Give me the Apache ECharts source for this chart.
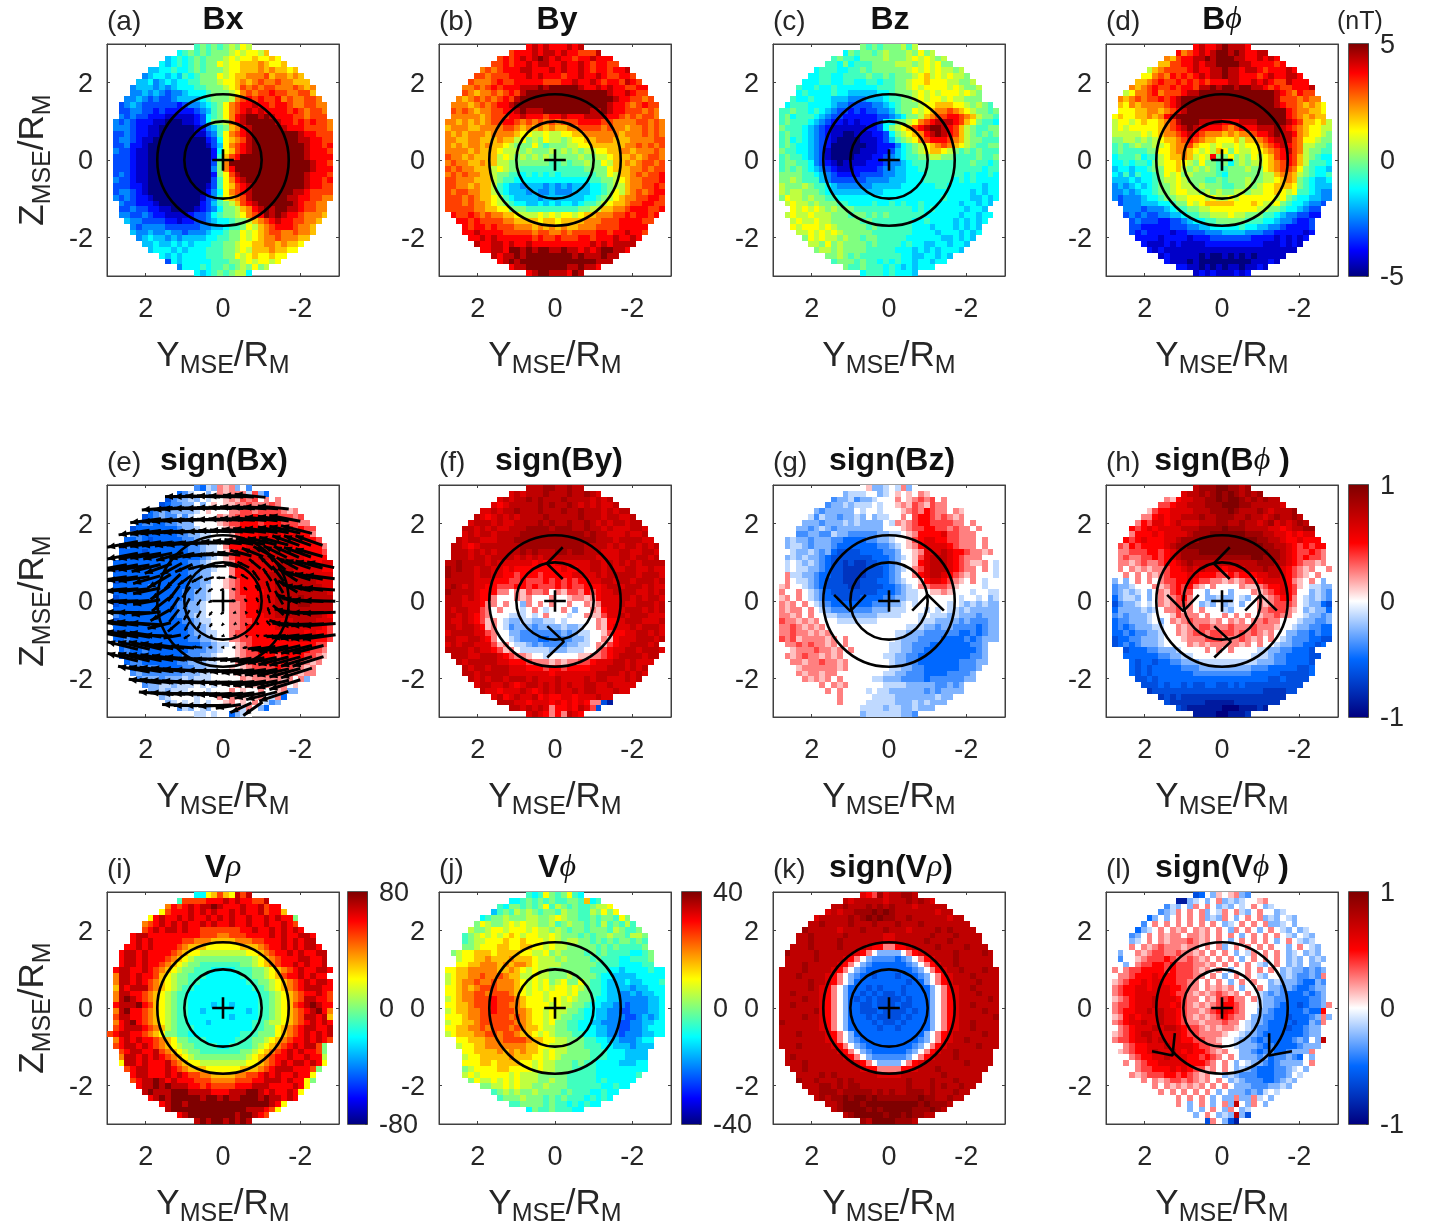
<!DOCTYPE html>
<html><head><meta charset="utf-8">
<style>html,body{margin:0;padding:0;background:#fff}#c{width:1429px;height:1230px}</style>
<script src="https://cdn.jsdelivr.net/npm/echarts@6/dist/echarts.min.js"></script>
</head><body><div id="c"></div>
<script>
// Each character (base 17) is a level, index into levelValues; rows run top to bottom, centred on Y=0.
const levelValues=[-1,-.875,-.75,-.625,-.5,-.375,-.25,-.125,0,.125,.25,.375,.5,.625,.75,.875,1];
const bxRows=["78787898a9","6787878889a9aa9b","56767878889a9aabaaba","6567678788a9aabbbcbaab","55667667878889aabbbcbcbbab","4566565767888a9abbcccdbccbcb","556456566778889aabcbcdccdccbbb","45554545666778889abdcdcddcccdcbc","445454344566678889acdcddeddccddb","4454343345555678889cdededdecdccddc","345433333323445678acdeefeedeedccddcc","334433232222234578acdefefeeeededcddc","434332221111123678acefggfgfeeeddcddd","43432221100011236889cefgggggfeedededdc","44432211000000124578bcefgggggfeeeddddc","3343221100000011347acdefggggggggfeeddd","3443211000000000236abcdfggggggggffeedd","3342210000000000135acdefgggggggggfeede","4332110000000000026abdefgggggggggfeeed","3332110000000000027bdegggggggggggfeeee","3332110000000000038cggggggggggggggfeed","3332110000000000048cegggggggggggggfeee","3432110000000000028adfgggggggggggfeeed","4332110000000000037acefggggggggggfeede","3332210000000000137abdefgggggggggfeedd","3443210000000000246acdefgggggggffedddd","4343221000000001347abcdfggggggffeeddcc","43322210000000235789bdefggggggfeddcc","334332211000012346889bcefgfggffeddcc","443343221111233467889acdegfgfeedcccb","5443333221223345667889bcdefeeddccb","43444433333344556778a9bcdeeedccb","5445445443444566788a9abcddccdccb","456554545555667788a9abccdcccbb","55655656566677889aabbccbcbba","5666565666777889a9bbbcbbaa","6565666677788a9abaabaa","36566666777889a9aa9a","4666767787898a89","6567878996"];
const byRows=["efefeeefef","deeefeffefeedddf","dedefefgfefeedeefeee","ddedeefeffeefeefedeedd","cdcdeeeffeeefefeefedeedeef","ddcdddeeefefeeedeefeefeddeed","dcccdeddeeeeedddeefeefedeedfed","ccdcdedeeefffgfgggggfeefefeeddee","dcbccdcdedfggggggggggggggfeefedd","cbcdcdcdedfggggggggggggggggfeeddcd","cccbcdcdeefggggggggggggggggfeedcdedd","dcdcbccddeefgfffggggggggffgfeedddcdc","cccccbcdddeefeeedeefeeeffffeedcdcddc","ccbcbcbcddeedcdcdcdcdddeeeeddccccddcdc","bcccbbccccddcbcbcbcbbccddddcdccbccdcdc","cbcbcccbccccbaa99a99aabbccccccbcccdcdc","ccbbccbbbcbb9a898a9989aabbcccbbbccccdd","cbcbccbcbba9888a8788899aabbbbbbccdcdcd","ccccbcbbba9998988898989899aabbccbcccdc","dccbcbbbb9a98989898888898899abbbcbcddc","cdccbbcbb998888888778788988a9bbcbcddcd","dcdccbbb9a988777777777778888abbbccdcdd","cdcdccbb98877676767677777788a9bbcdcdde","ddcccbbb9877666666666666677889abccddde","ddccbcbb97655455545454555667899bccdded","dcddccbb976555454454445556678a9bcdcdee","dddcdcbba97655554555555566789abccddeed","dddcdccba9876655656566567789abbcddeedd","dddddccbbaa8887777777778899bbccdeeedde","eddedcdccbba999a9a9aa9abbcccddedeede","eededdddccbbbbabbabbbbcccdddeeeedd","edeededddcccbcbcbcbbcccddddeeeee","eefeeeedddddcddccdcddddeedeefeed","eefefeeeeeededdedddeedeeefeefe","feeffefeefeeeeeeeeeefefeffff","eeffeggfgfggffgffefefggffe","feffgfggggggggfgfffgff","efgfgggggggggggggfff","effgggggggffgffe","efggfffegf"];
const bzRows=["8787888979","6878878988898a89","78776888898889a9a989","77686777888899989a9a88","67776677878888889a9a9a9989","6677667777877878889ab9a9a998","6667766776677677889aabaaa99889","76676676666666777889a9aaaa9a9889","676666766555556678889a9a9aaa9a98","7667666555444555677889a9aa9a99888","677766665443333445678889aabbbaa98987","77877676543323233445788a9abccdcba98878","7867776543322222233456889bcddeedcb9887","78777654322121222366889acdefffedba8776","877765432111111223689abdefggfedb987788","7877654321100111223689abcefgfedb987878","78676543210000111235789acdeeedcb988777","7876654320000001122246789abcdcba987788","8776654310000011122356789abba987878777","78776543100001112234567788998877778778","78877643210111122234456777777777787767","78787654321112222344556677777777777677","88887765432222333344556667777777676676","88987775433333344445556667777767676666","98889877654444445555566666677666666566","98998887655555555566666666666666656566","8a998988776666666666666666667666655656","9a9989888776666766767667666666566565","a9a9a98988877777777776767666665665","9a99a9998887887878777777666666566566","9a99a99888887877777776676666565656","a9aaa9a98888878777777666566656565","99a9a9a9888887777777666656665656","8a9a99898878877777666666556565","998a898888787777676655665665","89989888877777666565656665","8898787777777665566565","78887877676766566566","8778777676565666","6777676665"];
const bphiRows=["efeefgfffe","ecdefefggfgfeeff","cbdeeffgfgggffeefefe","bbddeefeffggggffeeeede","9bcddddefeeffgffeffedeeefe","aacdcededefeffgffeeedefeeffe","bbcdeddedededeeeffeefefeddfeee","cbcdeddedeedffgfggfggffededdeeef","9accdecdddeffgggggggggggggfedcedd","cbcdcddedefggggggggggggggggfdddcdcc","bacbccccdefggggggggggggggggfeddcbcba","aaabbccbcdefgggggggggggggggggedccbba","abaabbcbcefgggggggggggggggggggedcbcbb","9aa9abaabcdfgggffffeeefffgggggfedbbab9","9a9aaaaabcdefgfeeeedcdeeefffgfedcbaa99","99999a9abccdefedcccbcbccdeefgffecbaa98","88998989abbcdedcbbaaab9bbcdefffdcaa988","787898899abccdbaa9a99a9aabcdefedc99887","78777788aabccba9a9ba8a99aabcdefdc98877","677786779abbcb9a9e88a898a9abdeedb98766","667677689aaba98a8878689899abcdedb97776","566566788aab98989877888988abcddca87665","657576678a9a8988887688888899bccb987667","55565667899a9888778788898899abcb876556","45456567889a99898887788989aabbba876555","44545667889aa9989898899899aaba9a776544","4344456678899aaa9a99a9aaaaaa9a87665544","344455566788a9abbbbbaaaba99a87665443","444344456778899aaaaaaaa99887665433","343433445567788999a998887765443322","34333223345667788888777665443223","33222223334455666667665544322223","32322221223334445555444332222212","222212222122233333332222121212","2111212111122222222221112121","21211111111111111111111111","1211111010010101011111","21110100000000011121","2211010101101121","1212111212"];
const signBxRows=["5476a9a685","4578868a9aaa7b64","35667687889a9bab8a8a","3455668689899aabaaaba8","45656666789888aabbabbbba9a","3456557578888a9abbbcbbcbbbab","455445566688889abbcccbcccbbbaa","34444444566788889abcccdcdcbcbcbb","554444445566778889bcccddcdccdcca","4454344444556778889acdcdcddcdccccb","354444444444556778acccddddddcdccccca","4444344444445567789bcddedddedddccccb","4444444444444456789bcdddeeddddddcccc","44444444444445567889acddddddeeddddccdd","34444444444445566788accdddddeeedddddcc","44444444444445566888acccdddeeeeddddddd","34444444444445566889abcccdddeeeeeeeddd","44444454444445567889abcccdddeeeeeeeedd","44444444444455667888abccccddeeeeeeeeed","34444444444455667888abbccdddeeeefeeeee","34444444444556678888aabccdddeeeeffeeee","44444444444556678888aabccdddeeeeeeeeee","54444444444556778888aabcccddeeeeeeeedc","34444444444455677888aabbcccddddeeeeddd","44444444444445667888aabcccccddddddddcb","35444444444445667788abbccccccddddcdccb","44544444444445566788aabbccccccdcddcccb","445444444444445567789abcccccccccccbb","454454444444555667889abbcccccccccbba","354444444445556678889abbcccbccccbba9","4554444445566677888a9bbbccbcbbba9a","45555444455667788989abbbbcbbaa9a","56555555566677888899aabbabaaa9aa","566656667677788888a9aaaaa9a8a6","5667767778787888a8a9aa9aa898","66767778887888a8988a889a66","6788887888a8a9989a87a4","67878787889a898a8756","5768768888a7a864","7787884678"];
const signByRows=["eeeffeefee","dedeeefeeefeefed","dedeefefeeefeeeedede","dcdeeeeefefeefedededde","ddedeefeeefeeefeefeeededee","edcdededeeeefeeeeefeeedeedde","deeededdeeeefefeefeefededeedee","eedededdeeeffffefffeefeededddeed","dedeedeeeefffffffffffefeedddedde","edeedddeeeffffffffffffffeeedeeeedd","eedcdeeeeeeefffffffffffeeeededeedede","eeedededeeeefefeeeffeffeeedddeeddeed","eeedeedeeeedededeeeeeeeeeddddeedeede","eefeeeededdddddcdccddddddeededededeeee","fefeedeeddcdccccccccdccddeededdeeddedd","feeeedeeddccbcccbcccccddddedeeeeedeeed","eeeeedddcccbbcbbbcbcbcbccddeedeedeeede","efededdccbbbccbcbbbcbcbbcccdeedeeededd","feeeedcccaa8a9baab8a9bbacbcddeeeeddede","eeededcca888a9a888a889aa9acdddeededeed","eeedddcaa8a886a8a8a88a88a9adddeddeeede","edeeddba8a88878a8788a8688a9cdddeeedede","eededcba888777878a888788a99bddedeeeddd","eddedcb9a87667766778788888a9ccdeeeddde","eedeedc9a87566656666766788a9cdddedeeed","deeeeddba8866555555565677889bccddeeded","eeddeedca887655544555566788a9cdddeeede","dedeedddb9a877656555566778a9bcddeeede","eeeededdcb9a87777766677788abcddeedeeed","eeeddeeedcbaa98878888899aabcdeeeedee","edeeeeeddcccbaaa9a9aabbcdddeededdd","edeedeeedddcccbccbccccdddeeedede","eedeeeeedddddddcdddddddeeeededed","ededeedeeededddeddddedeedddede","deeddedcdeededededdeeddedddd","eddcdddedcdededdedeedddedd","decdeddecdccddcdddedd8","eeeddcdddcdcdcdcaa31","eedededaccdcedb3","dedcacaedc"];
const signBzRows=["8966787a68","6777886789898a98","56675667888a89abab8a","5667677787889a9ba9baa8","6566666878878889abacbaa8a9","7576656676867788a8bccbaba9a8","6665666767666687a9abccbbbbaa8a","6656765666666668889abbccbbabaa8a","55665576655555667789accccdbbaaa8","6766566655444455667889bcddccbbaaa8a8","6776566654444444556789acddddcbaaa8a8","87667656433334444556889adddedccbaa9a","867676654333333344456789bdeeedcbaaa888","878767654332322334456889cdeeedcba99a87","87877665433222233345678abdeeedcbaa8a87","8a776654433222233345688acdeedcba9a8887","8a87765433322233344567889cddcba98a8788","9a8876543333223333445678aabbba98888788","a88a876543333333344456778899a988878877","9a8a8765443333444455667788888887887867","a9a8a876544444445556678788888787676766","a9aa8a87655555556667778887878776766666","aa9a8a88776666666777788878777676665666","baa9a9a8887777777888888877766665655566","aaba9a9a888888888888887776656655554566","aabaa9a9a88888888888776665555554454566","bab9aaaa9a8a88888888766655554444545666","aababaa9a8a888888877665554444444556","9aaabaa9a8a88888877665544444444456","a9abaa9a9a8888888776655444444444556","aa9aabaa9a888888876655444444455566","9aaaaaa9a88888887766554444445556","a9aa9aa888888887766555444455556","8a9a9a8a88888776665555455555566","8a8a9a88888877776666655656","88a8a888878776666665656666","88a8888877776666666766","8a888877777666767666","8887777677667666","6777777665"];
const signBphiRows=["efffggffef","8deefefgfgfefef","a9cddeeffgfggfefefee","bbcddeeefffgggffeeeeed","9bccddddeeefffgfeeefedeeef","aacdcddeeefeefffeefeedefeefe","acbddcdedddeeeffeefeedefdedefe","cbcdcddddeeeffffgfffeeeeddcdeeff","acccdcddddefffggggggfffeeddcdcdd","cbcdcccddefffggggggggggffeedccdccc","bacbccccdeffgggggggggggggffeedcbcbcc","aabbbccbcdefffggggggggggggffedcbbcba","abaabbcbcdeffffffffffffggfffedcbcbba","8aa9abaabccdefeeeeeeeeeeefffeedcbaa9a8","8a8a9a9aabccdededddcdddeeefeedcba9a88a","88a8a8a9abcccddcccbbcbcccddeedcba98a88","6868a8a8abbccdcbbaa9a9abbcddddca98a868","5667888a9abcbca98a8888a99abccdcb987766","56767868a9bcbb8868886888a9abcdcb886765","46776868a9abca88667668768a9abcca876765","35667878a9abba86768678688a9abbba876643","466667678aab9a8a888768888aabbba9867664","56566678889baaa8a88a8a8a89aabaa8876656","4556667868a9abaaa9a8a9a8aabaa888766556","45456667788a9aabbaaabaaabaaa9887665544","44545566788a9abbabbbbababa9a8866554544","3445566678889aaabbbaaaba9a8a8765554433","3454566678888a9a9aaaaa9a8a88766554434","3444556667888 8a8a8a888877665544 43".replace(/ /g,''),"4444445566778888888888777655444433","43443445566677777777776665544443","43434444455566666666655544444334","43434444444555555555544444333334","334344444444444444444443343333","3334344343344334343333333333","23333333333333333333222233","2323222222222222222222","32222221111122222222","3211111100011121","1111001112"];
const vrhoRows=["66abdbafdf","7ddddeeefefeeddf","cedefeffgfeeefeefdee","adeeefefefeefefeefdeeb","aefeefefeefefefeefeefefee8","cdefefefeefefeefeefeefeefed","defeffefeedddddddeefeefefefe","effeeeeeeeeedddccdddeeeefefeeffe","efefeeeeeddcccbbbbcccddeeefefeff","eefefeeeedcbbbaaaaaabbbcdeefefeffe","effefeeeedcbaa99999999aabcdeefefeeff","effefeeedcba988888888889abcdeeeffeef","effefeedcba9887777777889abcdeefefeef","effeefedcba9887776666777889abcdefeeffe","cffefeedba9887776666667 7889abdeefefee".replace(' ',''),"cffefedcba988776666666677889abcdefeffe","bfefffdcba987766666666667789abcdefffee","cffeedcba98776666666666667789abcdeefed","cfgfedcba98776666666666667789abcdffeed","efffgedba98776666566566667789abdefgfee","cfgeedcba98776656666666567789abcdefgec","dffeedcba98776666666566667789abcdffefb","cefgedcba98776665666666677899abcdefefe","defffedcb9877766666666667788abcdeffeef","deffeedcba8877666666666777888abcdefefef","cefefeedcba8877766666777889abcdeefefed","deffefedcba988777766777789abcdefeffd8","deffeefdcba9887777777889abcdefefeed8","cffefefedcba98888888889abcdeefeefee9","affefeeefdcbaa99999999aabcdefeffefea","deffeeefedcbbbaaaaaabbbcdefffeeed8","effeeefefeddccbbbbccddefefeefeea","deffgfefeeedddccccdddeefffefeea8","effgfgfffeededdddeeefffeeeefea","fgfffgggffffeeefffggfefeefea","efgfgggggfggfgffgggfgffefe","efggfggggggggggggggfea","fgggggggggggggfffeda","efggggggggfggfed","fgfggfgfgf"];
const vphiRows=["767a878a76","6678787877887b67","76887878a7987877899a","5787989878879887798a8a","6788988899889a9887787887a8","8a9889a9a9988978988787978797","9889aa9aaa9a998987887888798778","789a9a9aba9aa99a9888787889887998","7899aaabaabaaa9a9899887878788787","889aaabbaabbaa9a9988888787877778","89aabbbabbbbaa99a898888787877776678","9aabbcbbbcbbba99989888878777667778","aabbcccbcbccba99998888887777666677","aabbcccccbbcba9a9988888887776656666766","9abbccdccdcbb99a9988898888766555566666","9abccdccdcccba9a9a89a88a87765556556667","aabcbcdddcccba9a9a9aa9a987765555455666","aabccddcdddcba9aa9aaa9a887765544545566","9abccdddedddcbaaa9aa9a9887665544444556","aabbcdddeddccbaaaa9a998876655443444556","9abbccddedddccbaa9a9988766554433444556","aaabccdddddcdcbaa9a9887766554443345456","9aabbcddddddccbaa9a8877665544433445566","aabbccdcdddcdcbba998877666554433445666","9abbbccddcddcbba9a98887766554434445566","aabbbcccddddcbbaa99888776655444566","9aabbcccccccbbaa999888777665554555","aabbbbcbcbcbba9a9988887776665555","9aabbbbbcbbbaa9a9888887776665555","aaabbabbbbaa9a998887877666655566","89aaaabbaaaa9a998887777666666666","9a9aaaaa9a999888887777766666667","8a99a9a9a99988988777776766666","8899a9a9988988877777766766","7898988988887877766766","78889888787877767676","7788887877676766","6877877766"];
const signVrhoRows=["dcbfdeeffe","edeeeeedeeefefed","eefeeefefefeeedeeeee","dedeefffgfgfeeeeeeedee","deeeeefefgfgffeefeeeeeedee","eefeeeefeeefeeefeeefeeeeeeee","feeeeedeeefeeefeeedeeeefefeeee","eefeeeeefeeeeeeddeeeeeefeeefeeee","eefeeeefeeeeeeeddeeeeefeeefeeeee","eeefeeeefeeeedccaaccdeeeefeeeefeee","feeeefeeeeeedca866668acdeeeeefeeeefe","eeeeefeeeedca8655554568acdeeefeeeeee","eeefeeeeedca865444444568acdeefeeeeee","eeeefeeeedca86544444444568acdeefeeefee","eeefeeeedca8654434443444568acdeeefeeee","eeeeefeedca8644444444434468acdeeeefeee","eeeeefedca86444343444344 4468acdeefeeee".replace(' ',''),"eefeeeedca86443434334344 4468acdeeefeee".replace(' ',''),"eeeefeedca864343433334344468acdeeeeefe","eefeeeedca864433433343344468acdeefeeee","eeeeeefdca864433343333434468acdeeeefee","eeeefeedca864443433334344468acdeeeeeef","feeeeeedca864444343343444468acdeefeeee","eeeeeeedca864444434434444468acdeefeeee","eeefeeeedca8644444444444468acdeeeeefee","eeeeeeeedca8654444444444568acdeefeeeee","eeefeeeeedca86544444444568acdeeeeefeee","eeeeeeeeedca865444444568acdeefeeeeee","efeeeeeeeedca8655555568acdeeefeeeeee","eeefeeeeeeeedca866668acdeeeeeeefeeee","eefeeeeeeeeedccaaaaccdeeefeeeeeeee","eeeefefeeeeeeeddddeeeeeeefeeeeee","feefeeefefeeeeeeeeefeeefeeefeeee","eeeffefeffeeeeeeeefeeefefeefee","eefffefffffefefeefffefeeefee","efeffgfggfgfffffffgffeefee","eefgggfgggggggggfgfffe","efggggfgfgggggfffgfe","efgggggfggfgffee","feggggfffe"];
const signVphiRows=["3486989a65","1167868a6767889a","57686a8a8676878a8678","567a8a8a687a8a768a8867","46868a8a8a676a868a8a676876","58a8a8a8a8a8a8678a8a8a667868","4678a8a9a8a9a8a86a8a868a876867","568a8a9aa8aa9a8a8a868a8a8a876876","678a8a9aaaba9a8a868a8a8a868a8767","8a8a9abaaa9aa8a8a68a8a8a8a8868a876","688a9abbaabaa9a8a8a8687a8a8a86786768","5889abbbcbaaba9a8a8a868a8a8a86768676","68abbccbcbbbaa9a8a8a8a8768a8676866","a8abbccccbcbbba9a8a8688a8a8a8676656568","8aabcccdcccbbbaa8a868a8a876886765565a8","9abccdcddccbbaa8a8a868a8a8867666544658","abccddcdddccbaa8a9a9a8688a866565445668","abccddddddcbba9a9aba9a8a8765654445456","9abcdddedddcbaa8a9bbcaa8a7665544445568","abbcdddeddcdba9a9abccba88766544434556a","abccddededdcbaa9abcdcba8866544444544c8","9acdcdddeddcba9a9abcbaa8665544344456a6","abcddeddeddcbaa9aaabaa87665444434465a8","8abcdddedeedcbba9a9aa98765544434456688","9abcdeedddddcbbaaaa988766544444445668","abbcddededddccbbaa988766545444456586e8","8abccdddeddddcbbaa887666545444456668","9abccdeddedcdccba9a88665455445666a8","8abccddedddccbcba8a866656455654868","a8abccdddddcccba8a86876654566668a8","8abbcccdcdcbb9a8a867654445567868","a9abbbccbcba9a88676555444556878","a8a9abbaba9a8a86765554456768","8a8a9a9a9a8a8a866655566768","8a8a8a8a8a86866656578788","88a8a8a86866a66a7868","8a868a868a6e86a86","6868a86a8678","68a8676e63","3a8631"];
// Quiver of panel (e): displacement in Y and Z per row, rows top to bottom, centred on Y=0
const quiverU=[[.8,.9,.9,.9,.9,.8,.8],[.8,.8,.9,.9,.9,.9,.9,.9,.9,.9,.8],[.8,.8,.85,.85,.9,.9,.9,.9,.9,.9,.85,.8,.8],[.8,.8,.85,.85,.85,.85,.85,.85,.85,.85,.85,.85,.8,.8,.8],[.8,.8,.8,.8,.75,.75,.75,.75,.75,.75,.75,.75,.75,.75,.7,.7,.7],[.8,.8,.8,.75,.7,.65,.6,.6,.6,.6,.55,.55,.55,.6,.65,.7,.7],[.85,.8,.8,.75,.7,.55,.45,.4,.4,.35,.35,.3,.3,.35,.45,.55,.65,.7,.7],[.85,.8,.8,.7,.6,.4,.35,.28,.25,.22,.2,.18,.18,.22,.3,.5,.65,.72,.75],[.9,.85,.8,.7,.5,.3,.2,.15,.12,.1,.1,.08,.08,.1,.22,.5,.68,.75,.78],[.9,.85,.8,.7,.45,.25,.15,.1,.1,.12,.1,.06,.05,.05,.2,.55,.72,.8,.82],[.88,.85,.85,.75,.5,.25,.15,.1,.08,.08,.05,.03,.03,.06,.28,.62,.78,.83,.85],[.85,.85,.85,.8,.6,.3,.12,.08,.06,.05,.03,.02,.03,.1,.4,.7,.82,.85,.85],[.85,.85,.85,.82,.72,.45,.15,.06,.05,.05,.04,.03,.06,.2,.5,.72,.82,.85,.85],[.8,.82,.85,.85,.78,.6,.25,.1,.06,.08,.12,.35,.62,.75,.8,.8,.8],[.8,.82,.85,.85,.85,.8,.72,.6,.5,.5,.55,.68,.75,.78,.8,.8,.8],[.82,.85,.88,.88,.88,.88,.85,.85,.85,.85,.85,.85,.82,.8,.8],[.85,.88,.9,.9,.9,.9,.9,.88,.85,.85,.85,.82,.8],[.9,.9,.9,.9,.9,.9,.88,.85,.8,.8,.75],[.9,.9,.9,.85,.65,.55,.5]];
const quiverV=[[0,0,.03,.03,.03,.05,.08],[-.06,-.05,-.03,0,0,.02,.03,.05,.05,.05,.08],[-.1,-.08,-.06,-.04,-.02,0,.02,.04,.05,.07,.1,.12,.15],[-.12,-.1,-.08,-.06,-.05,-.03,0,.03,.05,.08,.1,.12,.15,.18,.2],[-.15,-.13,-.12,-.1,-.1,-.08,-.03,0,.05,.08,.12,.15,.18,.2,.25,.25,.25],[-.15,-.15,-.13,-.15,-.2,-.15,-.08,-.02,.03,.08,.15,.22,.28,.3,.28,.25,.2],[-.15,-.15,-.13,-.18,-.25,-.3,-.2,-.1,-.05,0,.08,.15,.25,.35,.38,.3,.22,.18,.15],[-.12,-.1,-.12,-.2,-.35,-.38,-.25,-.15,-.08,0,.05,.12,.25,.32,.4,.32,.2,.15,.1],[-.08,-.07,-.08,-.15,-.35,-.4,-.28,-.15,-.08,-.03,.03,.08,.15,.28,.38,.3,.15,.1,.06],[-.04,-.03,-.05,-.12,-.35,-.38,-.28,-.15,-.05,0,.03,.08,.12,.22,.35,.22,.08,.04,.02],[.03,.02,.01,-.08,-.28,-.32,-.25,-.18,-.1,-.06,-.02,.05,.1,.18,.25,.12,.02,-.01,-.03],[.1,.1,.09,.05,-.15,-.25,-.22,-.18,-.1,-.05,-.02,.05,.08,.12,.13,.03,-.03,-.05,-.06],[.16,.16,.15,.12,.02,-.08,-.1,-.1,-.05,-.02,0,.02,.03,0,-.03,-.08,-.1,-.12,-.12],[.2,.2,.2,.15,.1,.05,.02,0,0,0,-.02,-.05,-.1,-.15,-.18,-.2,-.2],[.2,.2,.18,.15,.12,.08,.03,0,-.02,-.05,-.08,-.12,-.15,-.2,-.22,-.25,-.25],[.15,.13,.12,.1,.06,.03,0,-.02,-.05,-.08,-.12,-.15,-.18,-.22,-.25],[.1,.09,.07,.05,.02,0,-.02,-.05,-.08,-.12,-.15,-.2,-.25],[.06,.04,.02,0,0,-.03,-.06,-.1,-.15,-.2,-.25],[.03,0,0,-.03,-.1,-.25,-.35]];
const quiverStep=0.3;
// Direction chevrons: [Y,Z] triples, end-tip-end
const chevTop=[[-.2,1.39],[.21,.97],[-.2,.57]];
const chevBottom=[[.2,-.65],[-.23,-1.05],[.2,-1.46]];
const chevLeft=[[1.42,.16],[1.0,-.26],[.6,.16]];
const chevRight=[[-1.42,-.25],[-1.0,.16],[-.6,-.25]];
const chevLowL=[[1.81,-1.12],[1.28,-1.23],[1.22,-.65]];
const chevLowR=[[-1.81,-1.12],[-1.22,-1.23],[-1.22,-.65]];
const circleRadii=[1,1.7];
const axisTicks=[2,0,-2];
const panelLefts=[107,439,773,1106], panelTops=[44,485,892], panelSize=232;
const FONT='"Liberation Sans",Arial,sans-serif', INK='#262626';
const jetStops=[[0,'#00007f'],[.11,'#0000ff'],[.375,'#00ffff'],[.625,'#ffff00'],[.875,'#ff0000'],[1,'#7f0000']];
const bwrStops=[[0,'#00007f'],[.25,'#0068ff'],[.5,'#ffffff'],[.75,'#ff0000'],[1,'#7f0000']];
function hex(c){return [1,3,5].map(i=>parseInt(c.substr(i,2),16));}
function cmap(stops,t){t=Math.max(0,Math.min(1,t));for(let i=1;i<stops.length;i++){if(t<=stops[i][0]){const a=stops[i-1],b=stops[i],f=(t-a[0])/(b[0]-a[0]),A=hex(a[1]),B=hex(b[1]);return 'rgb('+A.map((v,k)=>Math.round(v+(B[k]-v)*f)).join(',')+')';}}return stops[stops.length-1][1];}
const panels=[
 {tag:'(a)',h:['Bx'],rows:bxRows,c:0,r:0,cm:jetStops,cx:223},
 {tag:'(b)',h:['By'],rows:byRows,c:1,r:0,cm:jetStops,cx:557},
 {tag:'(c)',h:['Bz'],rows:bzRows,c:2,r:0,cm:jetStops,cx:890},
 {tag:'(d)',h:['B','ϕ'],rows:bphiRows,c:3,r:0,cm:jetStops,cx:1222,bar:[1349,5]},
 {tag:'(e)',h:['sign(Bx)'],rows:signBxRows,c:0,r:1,cm:bwrStops,cx:224,quiver:true},
 {tag:'(f)',h:['sign(By)'],rows:signByRows,c:1,r:1,cm:bwrStops,cx:559,chev:[chevTop,chevBottom]},
 {tag:'(g)',h:['sign(Bz)'],rows:signBzRows,c:2,r:1,cm:bwrStops,cx:892,chev:[chevLeft,chevRight]},
 {tag:'(h)',h:['sign(B','ϕ',' )'],rows:signBphiRows,c:3,r:1,cm:bwrStops,cx:1222,bar:[1349,1],chev:[chevTop,chevBottom,chevLeft,chevRight]},
 {tag:'(i)',h:['V','ρ'],rows:vrhoRows,c:0,r:2,cm:jetStops,cx:223,bar:[348,80]},
 {tag:'(j)',h:['V','ϕ'],rows:vphiRows,c:1,r:2,cm:jetStops,cx:557,bar:[682,40]},
 {tag:'(k)',h:['sign(V','ρ',')'],rows:signVrhoRows,c:2,r:2,cm:bwrStops,cx:891},
 {tag:'(l)',h:['sign(V','ϕ',' )'],rows:signVphiRows,c:3,r:2,cm:bwrStops,cx:1222,bar:[1349,1],chev:[chevLowL,chevLowR]}
];
const grids=[],xAxes=[],yAxes=[],series=[],graphics=[];
const nameRich={b:{fontFamily:FONT,fontSize:35,color:INK,lineHeight:40,verticalAlign:'top'},s:{fontFamily:FONT,fontSize:25,color:INK,lineHeight:26,padding:[30,0,0,0],verticalAlign:'bottom'}};
const yLabelRich={v:{fontFamily:FONT,fontSize:27,color:INK,padding:[4,0,0,0]}};
const axBase={min:-3,max:3,interval:1,type:'value',splitLine:{show:false}};
function tickLabel(v){return String(v);}
function yTickLabel(v){return '{v|'+v+'}';}
const HALF=0.075, CELL=0.15, GRID_N=40;
function rectItem(stops){return function(p,api){
  const a=api.coord([api.value(0)+HALF,api.value(1)+HALF]),b=api.coord([api.value(0)-HALF,api.value(1)-HALF]);
  const x=Math.round(a[0]),y=Math.round(a[1]);
  return {type:'rect',shape:{x,y,width:Math.round(b[0])-x,height:Math.round(b[1])-y},style:{fill:cmap(stops,(api.value(2)+1)/2)}};
};}
function segs(arr,g,lw){return {type:'line',coordinateSystem:'cartesian2d',xAxisIndex:g*2,yAxisIndex:g*2,data:arr,showSymbol:false,symbol:'none',silent:true,animation:false,lineStyle:{color:'#000',width:lw},z:6};}
panels.forEach((p,i)=>{
  const g=grids.length, L=panelLefts[p.c], T=panelTops[p.r];
  grids.push({left:L,top:T,width:panelSize,height:panelSize,show:true,borderColor:'#404040',borderWidth:1,backgroundColor:'#fff'});
  const tick={show:true,inside:true,length:3,lineStyle:{color:'#404040',width:1}};
  const line={show:true,lineStyle:{color:'#404040',width:1}};
  xAxes.push({...axBase,inverse:true,gridIndex:g,position:'bottom',axisLine:{...line,onZero:false},axisTick:{...tick,customValues:axisTicks},
    axisLabel:{color:INK,fontFamily:FONT,fontSize:27,margin:20,customValues:axisTicks,formatter:tickLabel},
    name:'{b|Y}{s|MSE}{b|/R}{s|M}',nameLocation:'middle',nameGap:56,nameTextStyle:{rich:nameRich}});
  xAxes.push({...axBase,inverse:true,gridIndex:g,position:'top',axisLine:{...line,onZero:false},axisTick:{...tick,customValues:axisTicks},axisLabel:{show:false}});
  const yA={...axBase,gridIndex:g,position:'left',axisLine:{...line,onZero:false},axisTick:{...tick,customValues:axisTicks},
    axisLabel:{margin:14,customValues:axisTicks,formatter:yTickLabel,rich:yLabelRich}};
  if(p.c===0){yA.name='{b|Z}{s|MSE}{b|/R}{s|M}';yA.nameLocation='middle';yA.nameGap=51;yA.nameTextStyle={rich:nameRich};}
  yAxes.push(yA);
  yAxes.push({...axBase,gridIndex:g,position:'right',axisLine:{...line,onZero:false},axisTick:{...tick,customValues:axisTicks},axisLabel:{show:false}});
  const cells=[];
  p.rows.forEach((row,r)=>{const off=Math.floor((GRID_N-row.length)/2);
    for(let k=0;k<row.length;k++){const lv=levelValues[parseInt(row[k],17)];if(lv===undefined)continue;cells.push([3-CELL*(off+k+.5),3-CELL*(r+.5),lv]);}});
  series.push({type:'custom',coordinateSystem:'cartesian2d',xAxisIndex:g*2,yAxisIndex:g*2,data:cells,renderItem:rectItem(p.cm),silent:true,animation:false,z:2,encode:{x:0,y:1}});
  if(p.quiver){
    const arrows=[];
    quiverU.forEach((row,r)=>{const z=(9-r)*quiverStep;row.forEach((u,k)=>{const y=((row.length-1)/2-k)*quiverStep;arrows.push([y-u*.25,z-quiverV[r][k]*.25,u,quiverV[r][k]]);});});
    series.push({type:'custom',coordinateSystem:'cartesian2d',xAxisIndex:g*2,yAxisIndex:g*2,data:arrows,silent:true,animation:false,z:5,clip:true,encode:{x:0,y:1},
      renderItem(pa,api){const y=api.value(0),z=api.value(1),u=api.value(2),v=api.value(3);
        const a=api.coord([y,z]),b=api.coord([y+u,z+v]);const dx=b[0]-a[0],dy=b[1]-a[1],l=Math.hypot(dx,dy)||1;const ux=dx/l,uy=dy/l,h=Math.min(8,Math.max(3,l*.35)),w=Math.min(3.5,Math.max(1.8,l*.12));
        return {type:'group',children:[
          {type:'line',shape:{x1:a[0],y1:a[1],x2:b[0],y2:b[1]},style:{stroke:'#000',lineWidth:Math.min(3,1.5+l*.08)}},
          {type:'polygon',shape:{points:[[b[0],b[1]],[b[0]-ux*h-uy*w,b[1]-uy*h+ux*w],[b[0]-ux*h+uy*w,b[1]-uy*h-ux*w]]},style:{fill:'#000'}}]};}});
  }
  series.push({type:'custom',coordinateSystem:'cartesian2d',xAxisIndex:g*2,yAxisIndex:g*2,data:circleRadii.map(r=>[r]),silent:true,animation:false,z:6,clip:false,
    renderItem(pa,api){const c=api.coord([0,0]),e=api.coord([api.value(0),0]);return {type:'circle',shape:{cx:c[0],cy:c[1],r:Math.abs(e[0]-c[0])},style:{fill:'none',stroke:'#000',lineWidth:2.6}};}});
  series.push(segs([[-.28,0],[.28,0]],g,2.6));
  series.push(segs([[0,-.28],[0,.28]],g,2.6));
  (p.chev||[]).forEach(ch=>series.push(segs(ch,g,2.6)));
  const tagY=T-22, hY=T-24;
  graphics.push({type:'text',silent:true,style:{text:p.tag,x:L,y:tagY,align:'left',verticalAlign:'middle',fill:INK,font:'28px '+FONT}});
  const hTxt=p.h.map(t=>(t==='ϕ'||t==='ρ')?'{g|'+t+'}':'{t|'+t+'}').join('');
  graphics.push({type:'text',silent:true,style:{text:hTxt,x:p.cx,y:hY,align:'center',verticalAlign:'middle',rich:{t:{font:'bold 32px '+FONT,fill:'#111'},g:{font:'italic 32px "Liberation Serif",serif',fill:'#111'}}}});
  if(p.bar){
    const gb=grids.length,[bl,m]=p.bar;
    grids.push({left:bl,top:T,width:19,height:panelSize,show:true,borderColor:'#262626',borderWidth:1.5});
    xAxes.push({type:'value',gridIndex:gb,min:0,max:1,show:false});
    xAxes.push({type:'value',gridIndex:gb,min:0,max:1,show:false});
    yAxes.push({type:'value',gridIndex:gb,min:-m,max:m,interval:m,position:'right',splitLine:{show:false},axisLine:{show:true,onZero:false,lineStyle:{color:'#404040'}},axisTick:{show:true,inside:true,length:2,lineStyle:{color:'#404040'}},
      axisLabel:{margin:12,formatter:yTickLabel,rich:yLabelRich,showMinLabel:true,showMaxLabel:true}});
    yAxes.push({type:'value',gridIndex:gb,min:-m,max:m,show:false});
    const stops=p.cm;
    series.push({type:'custom',coordinateSystem:'cartesian2d',xAxisIndex:xAxes.length-2,yAxisIndex:yAxes.length-2,data:[[0,-m,1,m]],silent:true,animation:false,z:2,
      renderItem(pa,api){const a=api.coord([api.value(0),api.value(3)]),b=api.coord([api.value(2),api.value(1)]);
        return {type:'rect',shape:{x:a[0],y:a[1],width:b[0]-a[0],height:b[1]-a[1]},style:{fill:new echarts.graphic.LinearGradient(0,1,0,0,stops.map(s=>({offset:s[0],color:s[1]})))}};}});
  }
});
graphics.push({type:'text',silent:true,style:{text:'(nT)',x:1337,y:22,align:'left',verticalAlign:'middle',fill:INK,font:'25px '+FONT}});
const chart=echarts.init(document.getElementById('c'),null,{renderer:'canvas'});
chart.setOption({animation:false,backgroundColor:'#fff',grid:grids,xAxis:xAxes,yAxis:yAxes,series:series,graphic:{elements:graphics}});
</script></body></html>
